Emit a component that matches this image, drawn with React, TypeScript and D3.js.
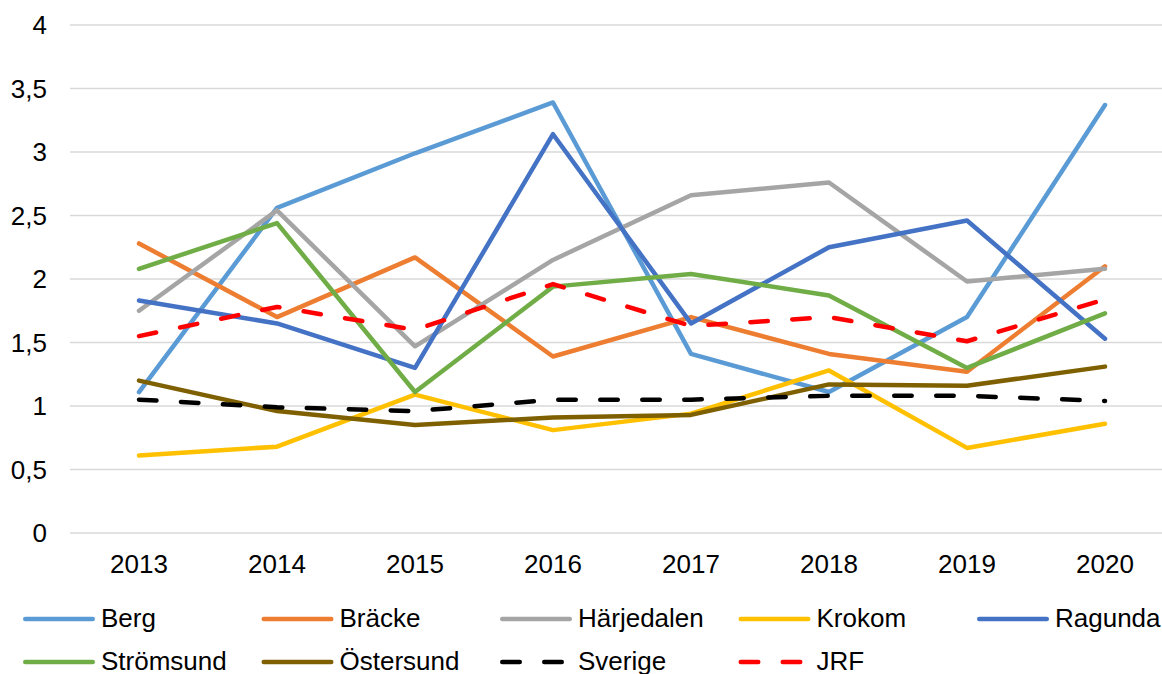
import React, { useRef, useEffect } from 'react';
import * as d3 from 'd3';

// Chart data
const years = ['2013', '2014', '2015', '2016', '2017', '2018', '2019', '2020'];
const seriesNames = ['Berg', 'Bräcke', 'Härjedalen', 'Krokom', 'Ragunda', 'Strömsund', 'Östersund', 'Sverige', 'JRF'];
const seriesColors = ['#5B9BD5', '#ED7D31', '#A5A5A5', '#FFC000', '#4472C4', '#70AD47', '#7F6000', '#000000', '#FF0000'];
const seriesDashed = [false, false, false, false, false, false, false, true, true];

const berg = [1.11, 2.56, 2.99, 3.39, 1.41, 1.11, 1.70, 3.37];
const bracke = [2.28, 1.70, 2.17, 1.39, 1.70, 1.41, 1.27, 2.10];
const harjedalen = [1.75, 2.54, 1.47, 2.15, 2.66, 2.76, 1.98, 2.08];
const krokom = [0.61, 0.68, 1.09, 0.81, 0.94, 1.28, 0.67, 0.86];
const ragunda = [1.83, 1.65, 1.30, 3.14, 1.65, 2.25, 2.46, 1.53];
const stromsund = [2.08, 2.44, 1.11, 1.94, 2.04, 1.87, 1.30, 1.73];
const ostersund = [1.20, 0.96, 0.85, 0.91, 0.93, 1.17, 1.16, 1.31];
const sverige = [1.05, 0.99, 0.96, 1.05, 1.05, 1.08, 1.08, 1.04];
const jrf = [1.55, 1.78, 1.60, 1.96, 1.63, 1.70, 1.51, 1.84];

const seriesValues = [berg, bracke, harjedalen, krokom, ragunda, stromsund, ostersund, sverige, jrf];

const yTicks = [0, 0.5, 1, 1.5, 2, 2.5, 3, 3.5, 4];

const FONT = '"Liberation Sans", Arial, sans-serif';

const Chart = () => {
  const svgRef = useRef<SVGSVGElement | null>(null);

  useEffect(() => {
    const width = 1162;
    const height = 674;

    const svg = d3.select(svgRef.current);
    svg.selectAll('*').remove();
    svg.attr('width', width).attr('height', height).style('background', '#ffffff');

    // plot area runs past the right edge (the reference is cropped there)
    const x = d3.scaleBand<string>().domain(years).range([70, 1174]);
    const y = d3.scaleLinear().domain([0, 4]).range([533, 25]);
    const cx = (yr: string) => (x(yr) as number) + x.bandwidth() / 2;

    // gridlines
    svg.append('g')
      .selectAll('line')
      .data(yTicks)
      .join('line')
      .attr('x1', 70)
      .attr('x2', 1174)
      .attr('y1', d => y(d))
      .attr('y2', d => y(d))
      .attr('stroke', '#D9D9D9')
      .attr('stroke-width', 1.3);

    // y labels
    svg.append('g')
      .selectAll('text')
      .data(yTicks)
      .join('text')
      .attr('x', 47)
      .attr('y', d => y(d))
      .attr('dy', '0.36em')
      .attr('text-anchor', 'end')
      .attr('font-family', FONT)
      .attr('font-size', 26)
      .attr('fill', '#000')
      .text(d => String(d).replace('.', ','));

    // x labels
    svg.append('g')
      .selectAll('text')
      .data(years)
      .join('text')
      .attr('x', d => cx(d))
      .attr('y', 573)
      .attr('text-anchor', 'middle')
      .attr('font-family', FONT)
      .attr('font-size', 26)
      .attr('fill', '#000')
      .text(d => d);

    const line = d3.line<number>()
      .x((_, i) => cx(years[i]))
      .y(d => y(d));

    // series lines
    seriesValues.forEach((vals, i) => {
      svg.append('path')
        .datum(vals)
        .attr('fill', 'none')
        .attr('stroke', seriesColors[i])
        .attr('stroke-width', 4.5)
        .attr('stroke-linejoin', 'round')
        .attr('stroke-linecap', 'round')
        .attr('stroke-dasharray', seriesDashed[i] ? '17.5,24.5' : null)
        .attr('d', line);
    });

    // legend, 5 per row
    const legend = svg.append('g');
    seriesNames.forEach((name, i) => {
      const col = i % 5;
      const row = Math.floor(i / 5);
      const lx = 23 + col * 238.5;
      const ly = 619 + row * 43;
      legend.append('line')
        .attr('x1', lx + 2.25)
        .attr('x2', lx + 69.75)
        .attr('y1', ly)
        .attr('y2', ly)
        .attr('stroke', seriesColors[i])
        .attr('stroke-width', 4.5)
        .attr('stroke-linecap', 'round')
        .attr('stroke-dasharray', seriesDashed[i] ? '17.5,24.5' : null);
      legend.append('text')
        .attr('x', lx + 78)
        .attr('y', ly + 8)
        .attr('font-family', FONT)
        .attr('font-size', 26)
        .attr('fill', '#000')
        .text(name);
    });
  }, []);

  return <svg ref={svgRef} style={{ position: 'absolute', left: 0, top: 0, display: 'block' }}></svg>;
};

export default function App() {
  return <Chart />;
}
